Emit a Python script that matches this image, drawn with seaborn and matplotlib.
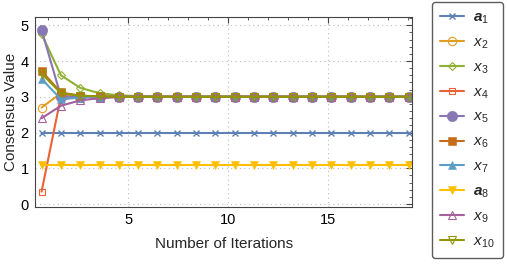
import numpy as np
import pandas as pd
import matplotlib
matplotlib.use("Agg")
import matplotlib.pyplot as plt
import matplotlib.ticker as ticker
import seaborn as sns

# iteration positions
iters = [0.68, 1.65, 2.61, 3.58, 4.54, 5.51, 6.47, 7.44, 8.40, 9.37,
         10.33, 11.30, 12.26, 13.23, 14.19, 15.16, 16.12, 17.09, 18.05, 19.02]

a1 = [2.0] * 20
x2 = [2.70, 3.10, 3.02, 3.00] + [3.0] * 16
x3 = [4.75, 3.60, 3.25, 3.10, 3.04, 3.02, 3.01] + [3.0] * 13
x4 = [0.35, 3.02, 3.00, 3.00] + [3.0] * 16
x5 = [4.87, 3.00, 3.00, 3.00] + [3.0] * 16
x6 = [3.72, 3.12, 3.03, 3.01] + [3.0] * 16
x7 = [3.50, 2.93, 2.98, 2.99] + [3.0] * 16
a8 = [1.10] * 20
x9 = [2.40, 2.75, 2.90, 2.96, 2.99] + [3.0] * 15
x10 = [3.65, 3.10, 3.03, 3.01] + [3.0] * 16

names = ["a1", "x2", "x3", "x4", "x5", "x6", "x7", "a8", "x9", "x10"]
labels = [r"$\mathbfit{a}_1$", r"$x_2$", r"$x_3$", r"$x_4$", r"$x_5$",
          r"$x_6$", r"$x_7$", r"$\mathbfit{a}_8$", r"$x_9$", r"$x_{10}$"]
series = [a1, x2, x3, x4, x5, x6, x7, a8, x9, x10]
colors = ["#5E81B5", "#E19C24", "#8FB032", "#EB6235", "#8778B3",
          "#C56E1A", "#5D9EC7", "#FFBF00", "#A5609D", "#929600"]
markers = ["x", "o", "D", "s", "o", "s", "^", "v", "^", "v"]
filled = [True, False, False, False, True, True, True, True, False, False]
msizes = [4.5, 6, 4.5, 4.5, 7.5, 5.2, 5.8, 5.8, 5.8, 5.8]

df = pd.DataFrame({"iter": iters})
for n, s in zip(names, series):
    df[n] = s

sns.set_style("white")
plt.rcParams["font.family"] = ["Liberation Sans", "DejaVu Sans"]
plt.rcParams["mathtext.fontset"] = "custom"
plt.rcParams["mathtext.rm"] = "Liberation Sans"
plt.rcParams["mathtext.it"] = "Liberation Sans:italic"
plt.rcParams["mathtext.bf"] = "Liberation Sans:bold"
plt.rcParams["mathtext.bfit"] = "Liberation Sans:bold:italic"

fig = plt.figure(figsize=(5.07, 2.66), dpi=100)
ax = fig.add_axes([0.069, 0.222, 0.744, 0.714])

for n, lab, c, m, f, ms in zip(names, labels, colors, markers, filled, msizes):
    kw = dict(marker=m, markersize=ms, markeredgecolor=c)
    if m == "x":
        kw["markeredgewidth"] = 1.0
    elif f:
        kw["markerfacecolor"] = c
        kw["markeredgewidth"] = 0.4
    else:
        kw["markerfacecolor"] = "none"
        kw["markeredgewidth"] = 0.8
    sns.lineplot(data=df, x="iter", y=n, color=c, linewidth=1.5, label=lab,
                 ax=ax, **kw)

ax.set_xlim(0.35, 19.2)
ax.set_ylim(-0.08, 5.23)
ax.xaxis.set_major_locator(ticker.FixedLocator([5, 10, 15]))
ax.xaxis.set_minor_locator(ticker.MultipleLocator(1))
ax.yaxis.set_major_locator(ticker.MultipleLocator(1))
ax.yaxis.set_minor_locator(ticker.MultipleLocator(0.2))
ax.tick_params(which="both", direction="in", top=True, right=True,
               colors="#444444", labelcolor="black", labelsize=10.5)
ax.tick_params(which="major", length=4, width=0.8, pad=4.5)
ax.tick_params(which="minor", length=2, width=0.6)
ax.grid(True, which="major", color="#bbbbbb", linestyle=(0, (1, 3)), linewidth=0.8)
for sp in ax.spines.values():
    sp.set_color("#444444")
    sp.set_linewidth(0.8)

ax.set_xlabel("Number of Iterations", fontsize=11, labelpad=7)
ax.set_ylabel("Consensus Value", fontsize=11, labelpad=2)

leg = ax.legend(loc="upper right", bbox_to_anchor=(0.992, 0.992),
                bbox_transform=fig.transFigure,
                frameon=True, fancybox=True, edgecolor="#333333",
                fontsize=11, handlelength=1.6, labelspacing=0.62,
                borderpad=0.55, handletextpad=0.55, borderaxespad=0)
leg.get_frame().set_linewidth(1.0)

fig.savefig("out.png", dpi=100)
